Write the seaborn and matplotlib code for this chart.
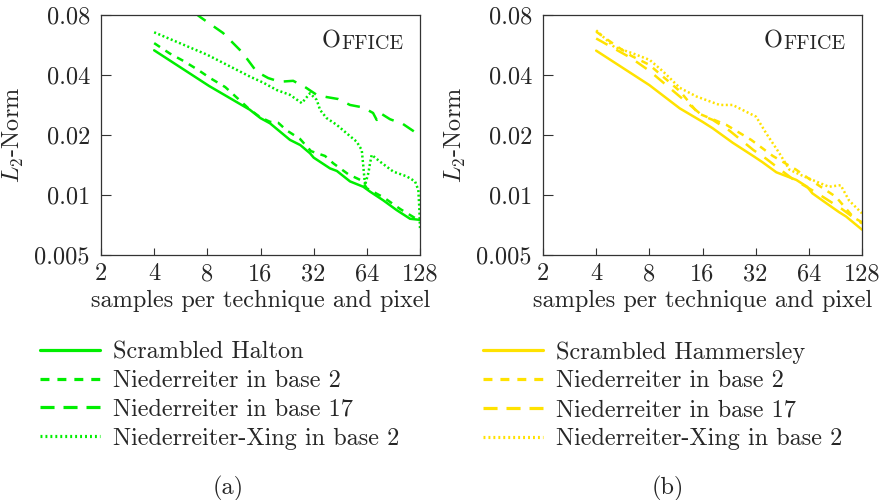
import pandas as pd
import matplotlib
matplotlib.use("Agg")
import matplotlib.pyplot as plt
from matplotlib.lines import Line2D
import seaborn as sns

# === 1. Data ===
# left panel (a)
halton_n = [4, 8.2, 13.9, 16, 18.1, 23.5, 26.9, 30.5, 32, 39.6, 43.3, 51.4, 61.1, 66.7, 79.3, 94.4, 112.4, 128]
halton_l2 = [0.0532, 0.0352, 0.0268, 0.0243, 0.0229, 0.0189, 0.0178, 0.0162, 0.0154, 0.0136, 0.0132,
             0.0117, 0.0110, 0.0104, 0.0094, 0.0084, 0.0076, 0.0075]

nied2_a_n = [4, 4.9, 5.9, 7.1, 8.3, 10.1, 11.8, 13.8, 16, 18.1, 20.2, 22.5, 26.8, 30.9, 37.1, 41.4,
             50.3, 60, 64, 80, 99, 128]
nied2_a_l2 = [0.0578, 0.0513, 0.0469, 0.0424, 0.0386, 0.0348, 0.0307, 0.0270, 0.0245, 0.0233, 0.0230,
              0.0211, 0.0191, 0.0166, 0.0157, 0.0144, 0.0127, 0.0118, 0.0108, 0.0097, 0.0085, 0.0074]

nied17_a_n = [4, 7.28, 9.82, 12.6, 15.2, 17.7, 20.6, 24.5, 28.6, 33.3, 37.9, 44.1, 51.4, 60.9, 69.4,
              72.8, 76, 86.6, 102.6, 124.7, 128]
nied17_a_l2 = [0.118, 0.0782, 0.065, 0.052, 0.0416, 0.0386, 0.0370, 0.0374, 0.0348, 0.0318, 0.0310,
               0.0303, 0.0283, 0.0275, 0.0258, 0.0238, 0.0258, 0.0240, 0.0227, 0.0202, 0.0200]

xing_a_n = [4, 8, 14.0, 16.6, 19.8, 23.5, 27.4, 30.5, 33.3, 34.8, 37.9, 43.2, 49.2, 56.1, 59.9, 61.1,
            62.5, 65.3, 66.7, 68.2, 76, 90.4, 107.6, 120, 125.2, 126.8, 128]
xing_a_l2 = [0.0655, 0.0505, 0.0392, 0.0366, 0.0336, 0.0318, 0.0289, 0.0324, 0.0300, 0.0267, 0.0243,
             0.0225, 0.0204, 0.0185, 0.0168, 0.0140, 0.0112, 0.0129, 0.0144, 0.0159, 0.0147, 0.0131,
             0.0124, 0.0117, 0.0106, 0.0087, 0.0068]

# right panel (b)
hammersley_n = [4, 8, 11.9, 16, 18.3, 23.7, 31.3, 35, 41.9, 54.4, 62.6, 67, 80.3, 95, 104, 128]
hammersley_l2 = [0.0530, 0.0356, 0.0272, 0.0233, 0.0216, 0.0183, 0.0156, 0.0146, 0.0130, 0.0119,
                 0.0110, 0.0102, 0.0091, 0.0082, 0.0078, 0.0067]

nied2_b_n = [4, 5.2, 6.3, 8, 12, 15.1, 21.8, 30.2, 40, 54.2, 70.3, 91, 115, 128]
nied2_b_l2 = [0.0660, 0.0560, 0.0500, 0.0450, 0.0330, 0.0257, 0.0225, 0.0189, 0.0157, 0.0134, 0.0114,
              0.0098, 0.0077, 0.0073]

nied17_b_n = [4, 6.3, 8, 12, 16, 18.3, 22.8, 31.1, 36.7, 43.2, 51.4, 70.3, 98.6, 117, 128]
nied17_b_l2 = [0.0610, 0.0487, 0.0420, 0.0310, 0.0250, 0.0238, 0.0210, 0.0168, 0.0152, 0.0136, 0.0121,
               0.0103, 0.0085, 0.0076, 0.0072]

xing_b_n = [4, 5.06, 6.47, 8.04, 9.56, 11.9, 14.8, 20, 23.7, 32.2, 36.7, 43.6, 49.7, 60, 83, 97, 108, 126, 128]
xing_b_l2 = [0.0670, 0.0553, 0.0513, 0.0476, 0.0417, 0.0345, 0.0312, 0.0283, 0.0283, 0.0247, 0.0204,
             0.0162, 0.0134, 0.0124, 0.0110, 0.0112, 0.0094, 0.0082, 0.0081]

x_ticks = [2, 4, 8, 16, 32, 64, 128]
y_ticks = [0.005, 0.01, 0.02, 0.04, 0.08]
y_labels = ["0.005", "0.01", "0.02", "0.04", "0.08"]

green = "#00ee00"
yellow = "#ffe200"

# line styles: plot (seaborn dash tuples, "" = solid) and legend samples
dash_styles = ["", (2.8, 2.6), (5.2, 4.0), (0.8, 1.0)]
legend_dashes = [None, (2.8, 2.5), (4.4, 2.8), (0.6, 0.95)]

# === 2. Style ===
sns.set_style("ticks")
SERIF = ["cmr10", "DejaVu Serif"]
plt.rcParams["font.family"] = SERIF
plt.rcParams["mathtext.fontset"] = "cm"
plt.rcParams["axes.formatter.use_mathtext"] = True
FS = 17.5

fig = plt.figure(figsize=(8.82, 5), dpi=100)
ax_a = fig.add_axes([101 / 882, 0.49, 319 / 882, 0.48])
ax_b = fig.add_axes([543 / 882, 0.49, 319 / 882, 0.48])


def draw_panel(ax, series, colour):
    frames = [pd.DataFrame({"n": n, "l2": v, "method": name}) for name, n, v in series]
    df = pd.concat(frames, ignore_index=True)
    names = [s[0] for s in series]
    sns.lineplot(data=df, x="n", y="l2", style="method", style_order=names,
                 dashes=dict(zip(names, dash_styles)), color=colour, lw=1.8,
                 estimator=None, legend=False, ax=ax)
    ax.set_xscale("log", base=2)
    ax.set_yscale("log")
    ax.set_xlim(2, 128)
    ax.set_ylim(0.005, 0.08)
    ax.set_xticks(x_ticks)
    ax.set_xticklabels([str(t) for t in x_ticks])
    ax.set_yticks(y_ticks)
    ax.set_yticklabels(y_labels)
    ax.minorticks_off()
    ax.tick_params(axis="both", direction="in", labelsize=FS, color="#333333", width=0.8)
    ax.tick_params(axis="y", length=7, pad=8)
    ax.tick_params(axis="x", length=5, pad=6)
    for sp in ax.spines.values():
        sp.set_color("#333333")
        sp.set_linewidth(0.9)
    ax.set_xlabel("samples per technique and pixel", fontsize=FS, labelpad=3)
    ax.set_ylabel(r"$L_2$-Norm", fontsize=FS, labelpad=6)
    # small caps "Office"
    t_rest = ax.text(0.947, 0.858, "FFICE", transform=ax.transAxes, fontsize=14.5,
                     ha="right", va="baseline")
    ax.annotate("O", xy=(-0.01, 0.02), xycoords=t_rest, fontsize=17.5, ha="right", va="bottom")

    handles = [Line2D([], [], color=colour, lw=2.3, linestyle="-" if d is None else (0, d))
               for d in legend_dashes]
    return handles, names


series_a = [("Scrambled Halton", halton_n, halton_l2),
            ("Niederreiter in base 2", nied2_a_n, nied2_a_l2),
            ("Niederreiter in base 17", nied17_a_n, nied17_a_l2),
            ("Niederreiter-Xing in base 2", xing_a_n, xing_a_l2)]
series_b = [("Scrambled Hammersley", hammersley_n, hammersley_l2),
            ("Niederreiter in base 2", nied2_b_n, nied2_b_l2),
            ("Niederreiter in base 17", nied17_b_n, nied17_b_l2),
            ("Niederreiter-Xing in base 2", xing_b_n, xing_b_l2)]

h_a, l_a = draw_panel(ax_a, series_a, green)
h_b, l_b = draw_panel(ax_b, series_b, yellow)

leg_kw = dict(loc="upper left", frameon=False, borderpad=0, borderaxespad=0,
              prop={"family": SERIF, "size": FS},
              handlelength=2.45, handletextpad=0.55, labelspacing=0.28)
fig.legend(h_a, l_a, bbox_to_anchor=(40 / 882, 1 - 341 / 500), **leg_kw)
fig.legend(h_b, l_b, bbox_to_anchor=(483 / 882, 1 - 341 / 500), **leg_kw)

fig.text(228 / 882, 1 - 488 / 500, "(a)", fontsize=FS, ha="center", va="center")
fig.text(668 / 882, 1 - 488 / 500, "(b)", fontsize=FS, ha="center", va="center")

fig.savefig("out.png", dpi=100)
